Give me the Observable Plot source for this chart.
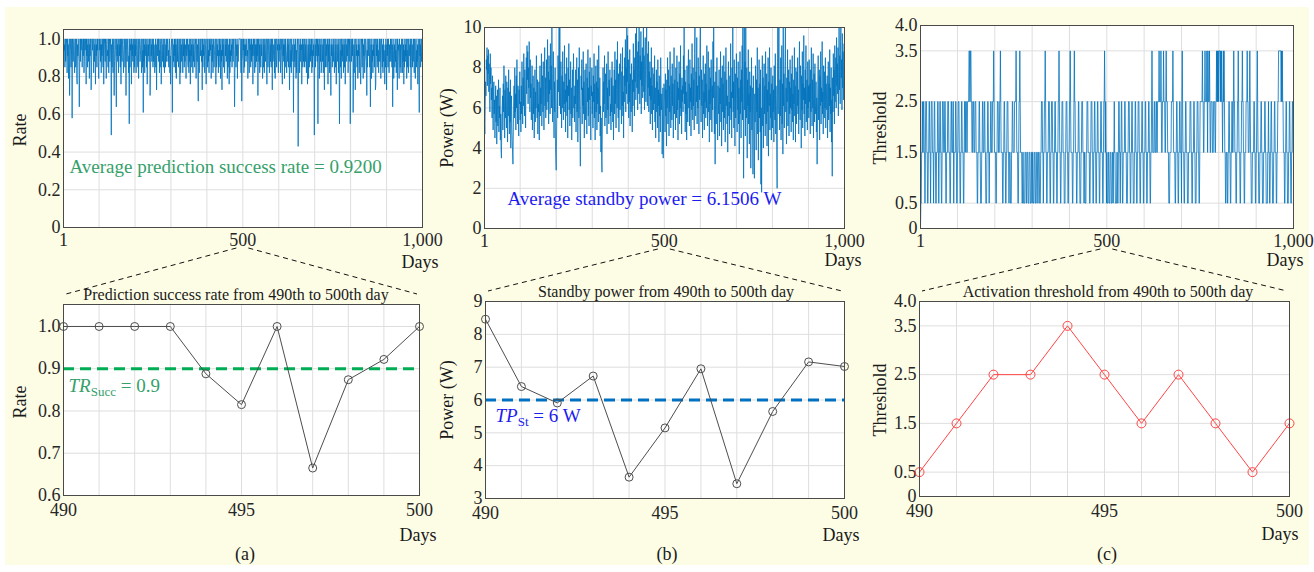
<!DOCTYPE html>
<html><head><meta charset="utf-8">
<script src="https://cdn.jsdelivr.net/npm/d3@7"></script>
<script src="https://cdn.jsdelivr.net/npm/@observablehq/plot@0.6"></script>
<style>
html,body{margin:0;padding:0;background:#fff;}
#fig{position:relative;width:1314px;height:572px;background:#fff;overflow:hidden;font-family:"Liberation Serif","Times New Roman",serif;}
#bg{position:absolute;left:5px;top:7px;width:1304px;height:558px;background:#fdfde6;}
.panel{position:absolute;}
.panel svg{max-width:none !important;display:block;overflow:visible;}
.lbl{position:absolute;font-size:18px;color:#1a1a1a;white-space:nowrap;line-height:1;transform:translate(-50%,-50%);}
.rot{transform:translate(-50%,-50%) rotate(-90deg);}
.ttl{font-size:16px;}
#overlay{position:absolute;left:0;top:0;}
</style></head>
<body>
<div id="fig"><div id="bg"></div></div>
<script>
// ---------------- DATA ----------------
const days = d3.range(1, 1001);

// prediction success rate per day (code -> rateKey index)
const rateKey = [1.00,0.97,0.94,0.91,0.88,0.85,0.82,0.79,0.76,0.73,0.70,0.67,0.64,0.61,0.58,0.55,0.52,0.49,0.46,0.43];
const rateCodes = [
"3021504201"+"6031720A40"+"2530E01420"+"3610520781"+"3024C50402",
"0152030640"+"2108031502"+"4071302950"+"1203604128"+"0315020473",
"0214061302"+"5082014037"+"1032506104"+"203H150261"+"0A41025C03",
"1406203150"+"8024103620"+"1503A20410"+"263F051208"+"0314026051",
"3062014507"+"1024310630"+"52D0416023"+"0518203140"+"2A60314025",
"0413620519"+"2031040625"+"1083024150"+"3602514031"+"0425106382",
"103D024150"+"3061720403"+"5102806314"+"0260315042"+"1703204516",
"0428031502"+"6140253017"+"20415B0362"+"0310429051"+"3026014830",
"1504260312"+"0730416025"+"3102805413"+"0625031704"+"2903150264",
"0314027053"+"1806240315"+"204103C602"+"5130714200"+"000460B430",
"2061503142"+"0327104602"+"1504031820"+"3062150413"+"0A20416035",
"1302740516"+"0241038025"+"3016204150"+"2904312607"+"1035021460",
"4120630258"+"0314071502"+"3620415039"+"1052604213"+"D041530726",
"103J502614"+"0218305140"+"2504136028"+"3170520413"+"06250314H2",
"05130240F1"+"3072041650"+"2416039025"+"0315208140"+"6024A13052",
"1403620518"+"30241604F2"+"0527031406"+"2150830412"+"30601402F5",
"041030D516"+"2094031527"+"0316205840"+"1502713064"+"3014A25031",
"0250C31704"+"2613052098"+"0315042610"+"4027103516"+"0423815029",
"1305026143"+"040251C027"+"3150426309"+"0214703516"+"2036041825",
"0413072501"+"6032150940"+"2514036017"+"3052418026"+"D031504201"
].join("");

// standby power per day, in tenths of a watt
const powerTenths = [
52,47,61,73,66,84,79,90,71,86, 77,89,68,82,74,58,87,72,80,64, 70,55,76,62,49,68,73,57,64,45, 60,71,53,66,42,58,69,51,63,74, 48,61,55,70,44,57,39,35,52,60,
66,49,72,58,81,63,45,69,55,76, 61,50,73,64,43,70,56,79,62,47, 68,53,74,40,59,66,51,44,37,32, 48,63,71,55,80,58,67,49,76,60, 84,65,52,71,57,46,69,62,78,54,
63,48,71,57,83,66,52,75,61,87, 69,56,79,64,50,73,85,67,91,74, 88,62,80,70,93,76,58,84,65,72, 54,68,81,49,63,76,57,70,45,66, 79,53,68,60,86,71,55,74,47,62,
58,73,44,67,81,56,70,62,87,51, 69,76,58,83,64,49,72,90,61,75, 55,68,84,59,71,94,63,78,52,86, 67,74,57,92,69,81,60,100,77,53, 70,88,62,45,73,58,80,41,34,29,
46,63,74,55,86,68,79,100,61,100, 72,57,83,64,50,76,60,88,67,54, 73,62,91,58,69,48,77,63,85,56, 71,45,80,66,92,59,74,51,68,83, 57,70,44,63,79,55,72,87,60,66,
53,71,62,79,48,67,85,58,74,43, 66,80,55,90,62,47,31,58,76,69, 84,52,70,61,88,57,73,45,66,79, 54,68,82,60,47,75,63,89,56,70, 51,78,64,85,59,44,71,66,80,57,
68,50,76,63,87,55,72,44,66,81, 58,73,49,84,62,70,53,91,64,57, 75,46,61,38,55,34,28,49,67,80, 58,73,62,86,51,69,77,55,64,82, 47,70,59,88,63,52,74,66,79,56,
62,49,75,58,83,67,53,71,44,65, 79,57,88,62,74,50,69,84,60,93, 66,55,77,48,70,82,59,73,87,64, 52,78,61,90,56,68,45,76,63,85, 71,94,58,80,67,100,73,96,62,84,
55,72,63,89,51,77,66,58,82,70, 48,74,61,92,68,79,56,85,73,97, 64,81,100,70,88,59,76,93,67,100, 79,62,86,74,98,57,83,71,90,65, 77,100,68,86,59,80,95,72,63,89,
100,74,61,87,70,93,58,78,66,83, 52,75,64,90,57,71,49,80,68,59, 77,62,86,53,70,45,66,79,58,73, 50,84,61,69,43,76,56,67,48,85, 64,59,67,37,52,70,35,57,72,70,
63,48,77,56,69,41,74,60,85,52, 67,79,46,71,58,88,63,50,76,66, 54,82,61,72,45,68,90,57,74,62, 49,80,67,55,86,59,73,44,70,64, 83,52,77,60,91,56,69,47,75,63,
71,58,86,67,100,62,79,48,73,57, 68,44,81,65,53,76,89,60,72,51, 84,63,70,46,77,59,92,66,54,80, 61,74,49,87,100,67,56,78,63,95, 52,71,60,85,69,47,76,64,88,100,
66,53,79,61,74,45,70,86,57,68, 49,77,63,82,55,72,60,91,66,51, 74,88,58,69,43,80,62,75,54,84, 67,48,71,59,93,65,100,56,47,73, 32,60,78,52,69,85,58,44,71,63,
57,79,46,70,62,88,53,75,41,67, 81,58,72,49,86,64,55,78,43,69, 90,61,74,52,66,38,71,83,56,63, 47,76,60,92,54,68,45,80,65,100, 58,73,50,84,62,41,77,55,69,87,
64,48,75,59,83,52,70,37,66,88, 57,74,45,79,63,91,54,100,68,25, 72,100,59,83,46,100,69,55,80,35, 74,61,89,52,67,42,78,58,71,30, 63,85,49,70,56,27,76,60,44,25,
67,53,81,62,39,74,58,90,47,70, 34,64,84,55,72,48,79,22,60,18, 69,86,51,75,40,66,82,57,71,46, 88,63,52,77,41,69,58,85,36,73, 61,90,49,67,55,80,44,72,64,50,
76,58,69,43,81,62,54,87,47,71, 60,38,20,66,100,57,79,100,63,49, 74,56,85,44,68,91,52,72,37,100, 61,77,50,68,83,100,58,70,42,75, 63,89,51,66,79,46,73,57,84,60,
70,48,77,59,86,53,67,44,74,62, 90,56,71,43,80,65,52,78,61,85, 57,69,47,75,93,63,54,81,68,40, 76,59,88,50,72,64,96,57,70,46, 79,62,91,53,68,74,49,83,60,71,
55,84,63,72,47,79,58,90,66,51, 74,60,87,45,69,77,53,82,62,57, 73,48,65,32,58,71,86,54,67,79, 44,76,61,88,52,70,63,93,57,68, 47,81,64,55,78,60,85,50,72,66,
59,76,45,68,83,54,72,61,89,48, 70,57,80,43,64,26,75,58,87,66, 79,52,91,63,74,85,60,95,71,82, 67,90,56,78,100,69,86,62,93,100, 75,84,59,97,70,88,64,81,92,78
];

// activation threshold per day (code -> thresholdKey index)
const thresholdKey = [0, 0.5, 1.5, 2.5, 3.5];
const thresholdCodes = [
"0112232233"+"2212333221"+"1223322123"+"3322212332"+"2112223321",
"2233221123"+"3322233211"+"2223332221"+"1233222331"+"2222332112",
"2333221122"+"3322211233"+"2333223333"+"4433443322"+"3332223332",
"2211222332"+"2111223322"+"2332211122"+"3322122233"+"2223334322",
"2211223332"+"2233432222"+"1122332211"+"2233322122"+"2111223322",
"2233334322"+"2112334322"+"2211221111"+"2221122211"+"1222111221",
"2211122211"+"1222112221"+"1122333221"+"2233432211"+"2223332112",
"2333221122"+"3322211223"+"3432211223"+"3322211122"+"3332211223",
"3432222112"+"2343322211"+"2223322111"+"2233322212"+"2111223332",
"2221122333"+"2211223322"+"1122332221"+"1223322211"+"2334323212",
"1112211122"+"2111221223"+"2211112211"+"2332212233"+"2112222332",
"2211122333"+"2211223322"+"1112233221"+"1223332211"+"2223322112",
"2233221122"+"2332211223"+"4322223322"+"2332233334"+"3333432233",
"3433322343"+"3322211122"+"2233334322"+"2211223322"+"1122332221",
"3432221122"+"3322211122"+"2233322112"+"2233221112"+"2333221123",
"3333343322"+"3343333432"+"4333432233"+"3322233332"+"2334343434",
"4443434332"+"3434322112"+"2211223322"+"1122332234"+"3322211223",
"3432221122"+"3343322112"+"2233343322"+"2343221112"+"2223322112",
"2343221112"+"2233221112"+"2233221111"+"2232211223"+"3221112233",
"2221122334"+"4444443434"+"3322211223"+"3221112233"+"2211223322"
].join("");

// zoomed window, days 490-500
const zoomDays = [490,491,492,493,494,495,496,497,498,499,500];
const zoomRate = [1.0,1.0,1.0,1.0,0.888,0.815,1.0,0.665,0.874,0.922,1.0];
const zoomPower = [8.46,6.41,5.91,6.73,3.65,5.15,6.95,3.45,5.65,7.16,7.02];
const zoomThreshold = [0.5,1.5,2.5,2.5,3.5,2.5,1.5,2.5,1.5,0.5,1.5];

const rateTarget = 0.9;
const powerTarget = 6;
const avgRateText = "Average prediction success rate = 0.9200";
const avgPowerText = "Average standby power = 6.1506 W";

// ticks
const topXTicks = [1, 500, 1000];
const topXGrid = [100,200,300,400,500,600,700,800,900,1000];
const zoomXTicks = [490, 495, 500];
const zoomXGrid = [491,492,493,494,495,496,497,498,499];
const rateTopTicks = [0,0.2,0.4,0.6,0.8,1.0];
const powerTopTicks = [0,2,4,6,8,10];
const thrTicks = [0,0.5,1.5,2.5,3.5,4.0];
const rateZoomTicks = [0.6,0.7,0.8,0.9,1.0];
const powerZoomTicks = [3,4,5,6,7,8,9];

// ---------------- TABLES ----------------
const rateSeries = Array.from(rateCodes, (c, i) => ({day: days[i], value: rateKey[parseInt(c, 36)]}));
const powerSeries = powerTenths.map((t, i) => ({day: days[i], value: t / 10}));
const thresholdSeries = Array.from(thresholdCodes, (c, i) => ({day: days[i], value: thresholdKey[+c]}));
const zoomRateSeries = zoomDays.map((d, i) => ({day: d, value: zoomRate[i]}));
const zoomPowerSeries = zoomDays.map((d, i) => ({day: d, value: zoomPower[i]}));
const zoomThrSeries = zoomDays.map((d, i) => ({day: d, value: zoomThreshold[i]}));

// ---------------- STYLE ----------------
const FONT = '"Liberation Serif","Times New Roman",serif';
const GRID = "#dedede";
const FRAME = "#4a4a4a";
const BLUE = "#0072BD";
const GRAY = "#4d4d4d";
const RED = "#ff4545";
const GREEN_LINE = "#00ad55";
const GREEN_TEXT = "#35a06a";
const BLUE_LINE = "#0070c0";
const BLUE_TEXT = "#1c1cf0";

const fig = document.getElementById("fig");
const fmtOne = d => d === 0 ? "0" : d.toFixed(1);
const fmtComma = d3.format(",");

function makePanel(spec) {
  const {left, top, width, height, frame: [fx0, fx1, fy0, fy1]} = spec;
  const chart = Plot.plot({
    width, height,
    marginLeft: fx0 - left, marginRight: left + width - fx1,
    marginTop: fy0 - top, marginBottom: top + height - fy1,
    style: {background: "transparent", fontFamily: FONT, fontSize: "18px", color: "#262626", overflow: "visible"},
    x: {domain: spec.xDomain, ticks: spec.xTicks, tickFormat: spec.xFormat, tickSize: 0, tickPadding: spec.xPad, label: null},
    y: {domain: spec.yDomain, ticks: spec.yTicks, tickFormat: spec.yFormat, tickSize: 0, tickPadding: 3, label: null},
    marks: [
      Plot.frame({fill: "white", stroke: "none"}),
      Plot.gridX(spec.xGrid, {stroke: GRID, strokeOpacity: 1}),
      Plot.gridY(spec.yTicks, {stroke: GRID, strokeOpacity: 1}),
      ...spec.marks,
      Plot.frame({stroke: FRAME, strokeWidth: 1})
    ]
  });
  const div = document.createElement("div");
  div.className = "panel";
  div.style.left = left + "px";
  div.style.top = top + "px";
  div.appendChild(chart);
  fig.appendChild(div);
  return {chart, left, top, frame: spec.frame};
}

function subscriptify(chart, cls, main, sub, rest) {
  const t = chart.querySelector(`.${cls} text`);
  if (!t) return;
  const ns = "http://www.w3.org/2000/svg";
  t.textContent = "";
  const a = document.createElementNS(ns, "tspan"); a.textContent = main; a.setAttribute("font-style", "italic");
  const b = document.createElementNS(ns, "tspan"); b.textContent = sub; b.setAttribute("font-size", "13px"); b.setAttribute("dy", "4");
  const c = document.createElementNS(ns, "tspan"); c.textContent = rest; c.setAttribute("dy", "-4");
  t.append(a, b, c);
}

// ---------------- TOP ROW ----------------
const topA = makePanel({
  left: 0, top: 0, width: 440, height: 280, frame: [63, 422, 29, 227], xPad: 6,
  xDomain: [1, 1000], xTicks: topXTicks, xFormat: fmtComma, xGrid: topXGrid,
  yDomain: [0, 1.05], yTicks: rateTopTicks, yFormat: fmtOne,
  marks: [
    Plot.lineY(rateSeries, {x: "day", y: "value", stroke: BLUE, strokeWidth: 0.8}),
    Plot.text([avgRateText], {text: d => d, frameAnchor: "bottom-left", dx: 6, dy: -55, textAnchor: "start", fill: GREEN_TEXT, fontSize: 19})
  ]
});
const topB = makePanel({
  left: 440, top: 0, width: 435, height: 280, frame: [484, 844, 27, 228], xPad: 6,
  xDomain: [1, 1000], xTicks: topXTicks, xFormat: fmtComma, xGrid: topXGrid,
  yDomain: [0, 10], yTicks: powerTopTicks, yFormat: d => String(d),
  marks: [
    Plot.lineY(powerSeries, {x: "day", y: "value", stroke: BLUE, strokeWidth: 0.8, clip: true}),
    Plot.text([avgPowerText], {text: d => d, frameAnchor: "bottom-left", dx: 23, dy: -24, textAnchor: "start", fill: BLUE_TEXT, fontSize: 19})
  ]
});
const topC = makePanel({
  left: 875, top: 0, width: 439, height: 280, frame: [920, 1293, 25, 228], xPad: 6,
  xDomain: [1, 1000], xTicks: topXTicks, xFormat: fmtComma, xGrid: topXGrid,
  yDomain: [0, 4], yTicks: thrTicks, yFormat: fmtOne,
  marks: [
    Plot.lineY(thresholdSeries, {x: "day", y: "value", stroke: BLUE, strokeWidth: 0.8})
  ]
});

// ---------------- BOTTOM ROW ----------------
const botA = makePanel({
  left: 0, top: 280, width: 440, height: 292, frame: [63, 419, 304, 495], xPad: 8,
  xDomain: [490, 500], xTicks: zoomXTicks, xFormat: d => String(d), xGrid: zoomXGrid,
  yDomain: [0.6, 1.052], yTicks: rateZoomTicks, yFormat: fmtOne,
  marks: [
    Plot.ruleY([rateTarget], {stroke: GREEN_LINE, strokeWidth: 3, strokeDasharray: "11,6"}),
    Plot.lineY(zoomRateSeries, {x: "day", y: "value", stroke: GRAY, strokeWidth: 1}),
    Plot.dot(zoomRateSeries, {x: "day", y: "value", r: 4, stroke: GRAY, fill: "none", strokeWidth: 1}),
    Plot.text([rateTarget], {y: d => d, text: () => "TRSucc = 0.9", frameAnchor: "left", dx: 5, dy: 17, textAnchor: "start", fill: GREEN_TEXT, fontSize: 19, className: "tr-label"})
  ]
});
const botB = makePanel({
  left: 440, top: 280, width: 435, height: 292, frame: [485, 844, 301, 498], xPad: 8,
  xDomain: [490, 500], xTicks: zoomXTicks, xFormat: d => String(d), xGrid: zoomXGrid,
  yDomain: [3, 9], yTicks: powerZoomTicks, yFormat: d => String(d),
  marks: [
    Plot.ruleY([powerTarget], {stroke: BLUE_LINE, strokeWidth: 3, strokeDasharray: "11,6"}),
    Plot.lineY(zoomPowerSeries, {x: "day", y: "value", stroke: GRAY, strokeWidth: 1}),
    Plot.dot(zoomPowerSeries, {x: "day", y: "value", r: 4, stroke: GRAY, fill: "none", strokeWidth: 1}),
    Plot.text([powerTarget], {y: d => d, text: () => "TPSt = 6 W", frameAnchor: "left", dx: 10, dy: 16, textAnchor: "start", fill: BLUE_TEXT, fontSize: 19, className: "tp-label"})
  ]
});
const botC = makePanel({
  left: 875, top: 280, width: 439, height: 292, frame: [919, 1289, 301, 496], xPad: 8,
  xDomain: [490, 500], xTicks: zoomXTicks, xFormat: d => String(d), xGrid: zoomXGrid,
  yDomain: [0, 4], yTicks: thrTicks, yFormat: fmtOne,
  marks: [
    Plot.lineY(zoomThrSeries, {x: "day", y: "value", stroke: RED, strokeWidth: 1}),
    Plot.dot(zoomThrSeries, {x: "day", y: "value", r: 4.5, stroke: RED, fill: "none", strokeWidth: 1})
  ]
});

subscriptify(botA.chart, "tr-label", "TR", "Succ", " = 0.9");
subscriptify(botB.chart, "tp-label", "TP", "St", " = 6 W");

// ---------------- LABELS ----------------
function label(text, x, y, cls = "") {
  const d = document.createElement("div");
  d.className = "lbl " + cls;
  d.textContent = text;
  d.style.left = x + "px";
  d.style.top = y + "px";
  fig.appendChild(d);
}
label("Rate", 20, 130, "rot");
label("Rate", 20, 402, "rot");
label("Power (W)", 447, 128, "rot");
label("Power (W)", 447, 400, "rot");
label("Threshold", 880, 128, "rot");
label("Threshold", 880, 400, "rot");
label("Days", 420, 262);
label("Days", 843, 260);
label("Days", 1285, 260);
label("Days", 418, 535);
label("Days", 841, 535);
label("Days", 1280, 534);
label("(a)", 245, 554);
label("(b)", 667, 554);
label("(c)", 1107, 554);
label("Prediction success rate from 490th to 500th day", 236, 295, "ttl");
label("Standby power from 490th to 500th day", 666, 292, "ttl");
label("Activation threshold from 490th to 500th day", 1108, 292, "ttl");

// ---------------- CONNECTORS ----------------
const ns = "http://www.w3.org/2000/svg";
const ov = document.createElementNS(ns, "svg");
ov.setAttribute("id", "overlay");
ov.setAttribute("width", 1314);
ov.setAttribute("height", 572);
fig.appendChild(ov);
[[topA, botA], [topB, botB], [topC, botC]].forEach(([t, b]) => {
  const x500 = t.left + t.chart.scale("x").apply(500);
  const ys = t.frame[3] + 21;
  const [bx0, bx1, by0] = b.frame;
  [[x500 - 6, bx0 + 3], [x500 + 6, bx1 - 2]].forEach(([xs, xe]) => {
    const l = document.createElementNS(ns, "line");
    l.setAttribute("x1", xs); l.setAttribute("y1", ys);
    l.setAttribute("x2", xe); l.setAttribute("y2", by0 - 10);
    l.setAttribute("stroke", "#111"); l.setAttribute("stroke-width", 1);
    l.setAttribute("stroke-dasharray", "5,4");
    ov.appendChild(l);
  });
});
</script>
</body></html>
